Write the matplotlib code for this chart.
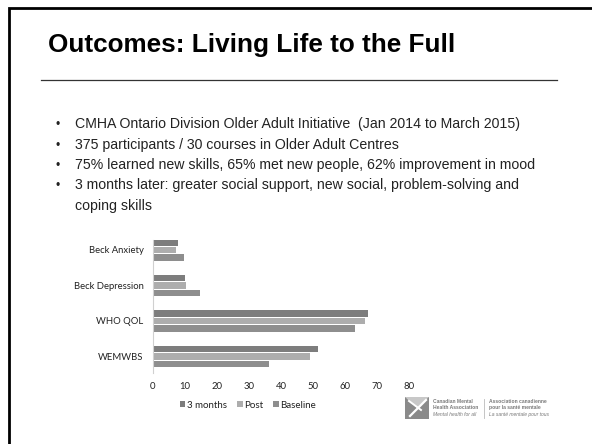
import matplotlib.pyplot as plt
from matplotlib.patches import Rectangle, Polygon
from matplotlib.lines import Line2D
import numpy as np

# chart data
categories = ['WEMWBS', 'WHO QOL', 'Beck Depression', 'Beck Anxiety']
series_names = ['3 months', 'Post', 'Baseline']
three_months = [51.5, 67.0, 10.0, 7.9]
post = [48.9, 66.0, 10.3, 7.4]
baseline = [36.3, 63.0, 14.8, 9.8]
series_colors = ['#7d7d7d', '#adadad', '#8e8e8e']
xticks = [0, 10, 20, 30, 40, 50, 60, 70, 80]

title = 'Outcomes: Living Life to the Full'
bullets = [
    'CMHA Ontario Division Older Adult Initiative  (Jan 2014 to March 2015)',
    '375 participants / 30 courses in Older Adult Centres',
    '75% learned new skills, 65% met new people, 62% improvement in mood',
    '3 months later: greater social support, new social, problem-solving and',
]
bullet_cont = 'coping skills'

W, H = 592, 444
fig = plt.figure(figsize=(W / 100, H / 100), dpi=100)
renderer = fig.canvas.get_renderer()


def fx(px):
    return px / W


def fy(py):
    return 1 - py / H


def fit_text(x, y, s, width_px, size, **kw):
    # shrink/grow the font so the text spans the measured width
    t = fig.text(fx(x), fy(y), s, fontsize=size, **kw)
    w = t.get_window_extent(renderer).width
    t.set_fontsize(size * width_px / w)
    return t


# slide frame (only the left and top edges fall inside the picture)
fig.add_artist(Line2D([fx(8.5), fx(8.5), fx(600)], [fy(450), fy(8), fy(8)],
                      transform=fig.transFigure, color='black', linewidth=2.0,
                      solid_joinstyle='miter'))

# title and rule
fit_text(48, 52, title, 406, 20, family='Liberation Sans',
         fontweight='bold', va='baseline', color='black')
fig.add_artist(Line2D([fx(41), fx(557)], [fy(80), fy(80)],
                      transform=fig.transFigure, color='#333333', linewidth=0.9))

# bullets
base = 128.3
step = 20.3
first = fit_text(75, base, bullets[0], 445, 10, family='Liberation Sans',
                 va='baseline', color='#222222')
fs = first.get_fontsize()
for i, line in enumerate(bullets):
    y = base + i * step
    fig.text(fx(55.5), fy(y), '•', fontsize=fs * 0.85, family='Liberation Sans',
             va='baseline', color='#222222')
    if i > 0:
        fig.text(fx(75), fy(y), line, fontsize=fs, family='Liberation Sans',
                 va='baseline', color='#222222')
fig.text(fx(75), fy(base + 4 * step), bullet_cont, fontsize=fs,
         family='Liberation Sans', va='baseline', color='#222222')

# bar chart
ax_left, ax_right = 152.5, 409.5
ax_top, ax_bottom = 240, 372.7
ax = fig.add_axes([fx(ax_left), fy(ax_bottom),
                   fx(ax_right - ax_left), (ax_bottom - ax_top) / H])

y = np.arange(len(categories))
bh = 0.185
gap = 0.207
values = [three_months, post, baseline]
for k, (name, vals, col) in enumerate(zip(series_names, values, series_colors)):
    ax.barh(y + (1 - k) * gap, vals, height=bh, color=col, label=name)

ax.set_xlim(0, 80)
ax.set_ylim(-0.456, 3.28)
ax.set_xticks(xticks)
ax.set_yticks(y)
ax.set_yticklabels(categories)
ax.tick_params(axis='both', length=0, labelsize=6.8, colors='#222222')
ax.tick_params(axis='y', pad=6.5)
ax.tick_params(axis='x', pad=6.5)
for lab in ax.get_xticklabels() + ax.get_yticklabels():
    lab.set_family('Lato')
for s in ['top', 'right', 'bottom']:
    ax.spines[s].set_visible(False)
ax.spines['left'].set_color('#d0d0d0')
ax.spines['left'].set_linewidth(0.8)
ax.set_facecolor('none')

leg = fig.legend(loc='center', bbox_to_anchor=(fx(248), fy(405)), ncol=3,
                 frameon=False, prop={'family': 'Lato', 'size': 7},
                 handlelength=0.6, handleheight=0.6, handletextpad=0.2,
                 columnspacing=0.95, labelcolor='#222222')

# organisation logo, bottom right
fig.add_artist(Rectangle((fx(405), fy(419)), fx(24), 22 / H,
                         transform=fig.transFigure, color='#8a8a8a', lw=0))
fig.add_artist(Polygon([[fx(405), fy(397)], [fx(429), fy(397)], [fx(417), fy(408)]],
                       transform=fig.transFigure, color='#c8c8c8', lw=0))
fig.add_artist(Line2D([fx(410), fx(426)], [fy(416), fy(400)],
                      transform=fig.transFigure, color='white', lw=1.6))
fig.add_artist(Line2D([fx(409), fx(421)], [fy(401), fy(410)],
                      transform=fig.transFigure, color='white', lw=1.4))
logo_kw = dict(fontsize=3.6, family='Liberation Sans', color='#7a7a7a', va='center')
fig.text(fx(433), fy(401.3), 'Canadian Mental', fontweight='bold', **logo_kw)
fig.text(fx(433), fy(407.3), 'Health Association', fontweight='bold', **logo_kw)
fig.text(fx(433), fy(414.7), 'Mental health for all', style='italic', **logo_kw)
fig.add_artist(Line2D([fx(483.5), fx(483.5)], [fy(399), fy(418)],
                      transform=fig.transFigure, color='#bbbbbb', lw=0.6))
fig.text(fx(489), fy(401.3), 'Association canadienne', fontweight='bold', **logo_kw)
fig.text(fx(489), fy(407.3), 'pour la santé mentale', fontweight='bold', **logo_kw)
fig.text(fx(489), fy(414.7), 'La santé mentale pour tous', style='italic', **logo_kw)

fig.savefig('out.png', dpi=100, facecolor='white')
